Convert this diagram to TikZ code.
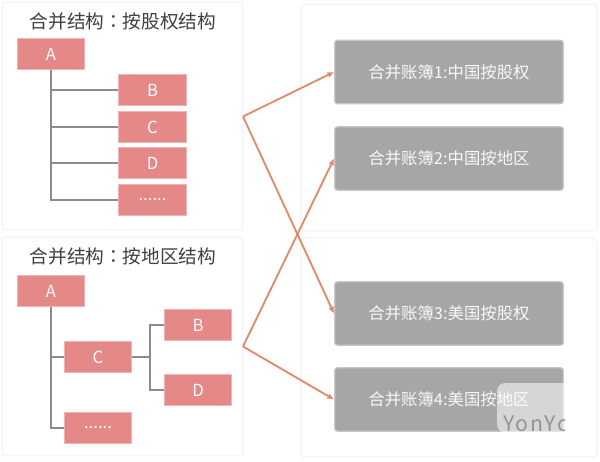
\documentclass[tikz,border=0pt]{standalone}
\usepackage{fontspec}
\setmainfont{Noto Sans CJK SC}
\newfontfamily\tcfont{Noto Sans CJK TC}
\usetikzlibrary{arrows.meta,calc}
\definecolor{redbox}{HTML}{E58888}
\definecolor{redrim}{HTML}{F0B4B4}
\definecolor{graybox}{HTML}{A6A6A6}
\definecolor{grayrim}{HTML}{C8C8C8}
\definecolor{arrowc}{HTML}{DF8B6C}
\definecolor{linec}{HTML}{8C8C8C}
\definecolor{panelc}{HTML}{F1F1F1}
\definecolor{titlec}{HTML}{404040}
\tikzset{
 x=0.75pt,y=-0.75pt,
 panel/.style={draw=panelc,line width=0.75pt,fill=white,rounded corners=2pt,inner sep=0pt},
 titletext/.style={text=titlec,font=\fontsize{14pt}{16pt}\selectfont,inner sep=0pt},
 redb/.style={draw=redrim,line width=0.9pt,fill=redbox,minimum width=50.5pt,minimum height=23pt,inner sep=0pt,text=white,font=\fontsize{12.5pt}{14pt}\selectfont},
 grayb/.style={draw=grayrim,line width=0.9pt,fill=graybox,rounded corners=2pt,minimum width=171.5pt,minimum height=47.5pt,inner sep=0pt,text=white!92!graybox,font=\fontsize{12.3pt}{14pt}\selectfont},
 tree/.style={draw=linec,line width=1.5pt},
 link/.style={draw=arrowc,line width=1.4pt,-{Latex[length=5pt,width=4.5pt]}},
}
\begin{document}
\begin{tikzpicture}
\useasboundingbox (0,0) rectangle (600,461);
\fill[white] (0,0) rectangle (600,461);
% panels
\node[panel,minimum width=180.5pt,minimum height=171pt] (p1) at (122.5,116) {};
\node[panel,minimum width=180.5pt,minimum height=164pt] (p2) at (122.5,346.5) {};
\node[panel,minimum width=222pt,minimum height=170pt] (p3) at (449,117.5) {};
\node[panel,minimum width=222pt,minimum height=164pt] (p4) at (449,347.5) {};
% titles
\node[titletext] (t1) at (123,21) {合并结构{\tcfont ：}按股权结构};
\node[titletext] (t2) at (123,256) {合并结构{\tcfont ：}按地区结构};
% tree nodes
\node[redb] (a1) at (51,54) {A};
\node[redb] (b1) at (152.5,90) {B};
\node[redb] (c1) at (152.5,127) {C};
\node[redb] (d1) at (152.5,163) {D};
\node[redb] (e1) at (152.5,200) {......};
\node[redb] (a2) at (51,291) {A};
\node[redb] (c2) at (98,357) {C};
\node[redb] (b2) at (198,325) {B};
\node[redb] (d2) at (198,390) {D};
\node[redb] (e2) at (98,428) {......};
% tree 1 connectors
\draw[tree] (a1.south) |- (e1.west);
\draw[tree] (a1.south |- b1.west) -- (b1.west);
\draw[tree] (a1.south |- c1.west) -- (c1.west);
\draw[tree] (a1.south |- d1.west) -- (d1.west);
% tree 2 connectors
\draw[tree] (a2.south) |- (e2.west);
\draw[tree] (a2.south |- c2.west) -- (c2.west);
\coordinate (j2) at (150,357);
\draw[tree] (c2.east) -- (j2);
\draw[tree] (b2.west) -| (j2);
\draw[tree] (d2.west) -| (j2);
% ledgers
\node[grayb] (g1) at (449,72) {合并账簿1:中国按股权};
\node[grayb] (g2) at (449,158.5) {合并账簿2:中国按地区};
\node[grayb] (g3) at (449,313.5) {合并账簿3:美国按股权};
\node[grayb] (g4) at (449,399.5) {合并账簿4:美国按地区};
% links
\coordinate (f1) at (243,116.5);
\coordinate (f2) at (243,346.5);
\draw[link] (f1) -- (g1.west);
\draw[link] (f1) -- (g3.west);
\draw[link] (f2) -- (g2.west);
\draw[link] (f2) -- (g4.west);
% watermark
\begin{scope}
\clip (564,383) [rounded corners=6pt] -- (497,383) -- (497,432.5) [sharp corners] -- (564,432.5) -- cycle;
\fill[white,opacity=0.55] (497,383) rectangle (564,432.5);
\node[anchor=west,inner sep=0pt,text=black!42,font=\fontsize{16pt}{18pt}\selectfont\addfontfeatures{LetterSpace=9}] (wm) at (503,424) {YonYo};
\end{scope}
\end{tikzpicture}
\end{document}
